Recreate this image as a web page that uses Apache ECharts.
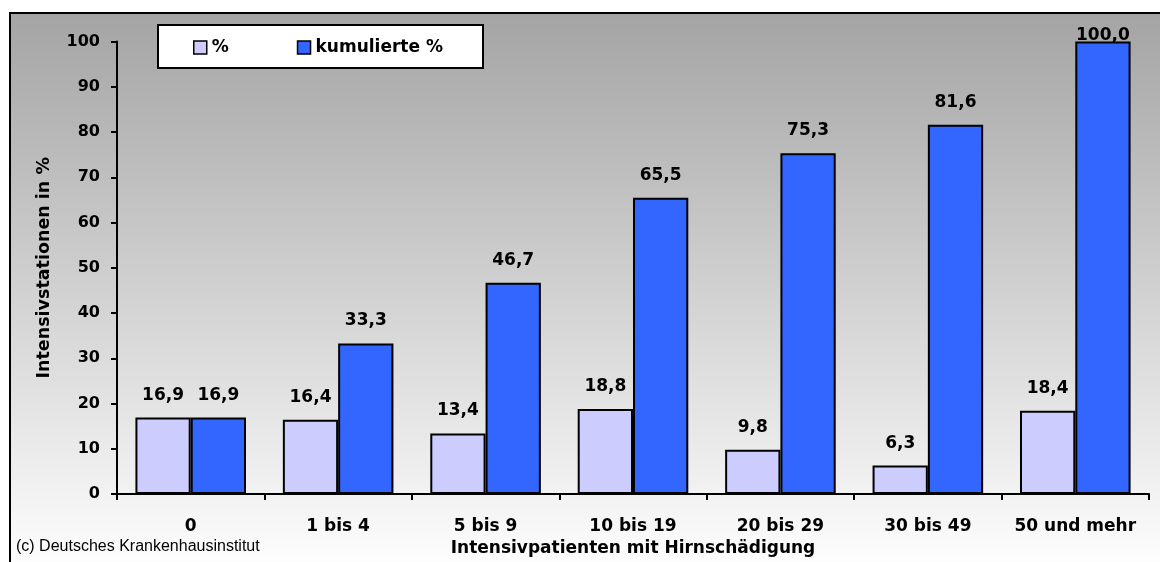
<!DOCTYPE html>
<html>
<head>
<meta charset="utf-8">
<script src="https://cdn.jsdelivr.net/npm/echarts@6/dist/echarts.min.js"></script>
<style>
html,body{margin:0;padding:0;background:#fff;}
#chart{width:1160px;height:562px;}
</style>
</head>
<body>
<div id="chart"></div>
<script>
var categories = ['0', '1 bis 4', '5 bis 9', '10 bis 19', '20 bis 29', '30 bis 49', '50 und mehr'];
var pct = [16.9, 16.4, 13.4, 18.8, 9.8, 6.3, 18.4];
var cumPct = [16.9, 33.3, 46.7, 65.5, 75.3, 81.6, 100.0];
var yTicks = [0, 10, 20, 30, 40, 50, 60, 70, 80, 90, 100];
var seriesNames = ['%', 'kumulierte %'];

var FONT = 'DejaVu Sans, Liberation Sans, Arial, sans-serif';
function fmt(p) { return p.value.toFixed(1).replace('.', ','); }

var chart = echarts.init(document.getElementById('chart'), null, {renderer: 'canvas'});

var cumData = cumPct.map(function (v) {
  if (v >= 100) return {value: v, label: {distance: -3}};
  return v;
});

var labelStyle = {
  show: true, position: 'top', distance: 14, formatter: fmt,
  fontFamily: FONT, fontWeight: 'bold', fontSize: 17, color: '#000'
};

chart.setOption({
  animation: false,
  backgroundColor: '#ffffff',
  graphic: [
    {
      type: 'rect', z: -10, silent: true,
      shape: {x: 10, y: 13, width: 1160, height: 560},
      style: {
        fill: new echarts.graphic.LinearGradient(0, 0, 0, 1, [
          {offset: 0, color: '#a4a4a4'},
          {offset: 1, color: '#ffffff'}
        ]),
        stroke: '#000', lineWidth: 2
      }
    },
    {
      type: 'rect', z: 3, silent: true,
      shape: {x: 158, y: 25, width: 325, height: 43},
      style: {fill: '#ffffff', stroke: '#000', lineWidth: 2}
    },
    {
      type: 'text', z: 5, silent: true,
      style: {
        x: 16, y: 547, text: '(c) Deutsches Krankenhausinstitut',
        align: 'left', verticalAlign: 'middle',
        font: '16px Liberation Sans, Arial, sans-serif', fill: '#000'
      }
    }
  ],
  legend: {
    left: 188, top: 34, z: 4,
    itemWidth: 13, itemHeight: 13, itemGap: 68,
    icon: 'rect',
    itemStyle: {borderColor: '#000', borderWidth: 1.5},
    textStyle: {fontFamily: FONT, fontWeight: 'bold', fontSize: 17, color: '#000'},
    data: seriesNames
  },
  grid: {left: 117, right: 11, top: 41.5, bottom: 66, containLabel: false},
  xAxis: {
    type: 'category',
    data: categories,
    name: 'Intensivpatienten mit Hirnschädigung',
    nameLocation: 'middle', nameGap: 43,
    nameTextStyle: {fontFamily: FONT, fontWeight: 'bold', fontSize: 17, color: '#000'},
    axisLine: {lineStyle: {color: '#000', width: 2}},
    axisTick: {show: true, interval: 0, length: 6, lineStyle: {color: '#000', width: 2}},
    axisLabel: {interval: 0, fontFamily: FONT, fontWeight: 'bold', fontSize: 17, color: '#000', margin: 24},
    splitLine: {show: false}
  },
  yAxis: {
    type: 'value',
    min: yTicks[0], max: yTicks[yTicks.length - 1], interval: 10,
    name: 'Intensivstationen in %',
    nameLocation: 'middle', nameGap: 64, nameRotate: 90,
    nameTextStyle: {fontFamily: FONT, fontWeight: 'bold', fontSize: 17.5, color: '#000'},
    axisLine: {show: true, lineStyle: {color: '#000', width: 2}},
    axisTick: {show: true, length: 6, lineStyle: {color: '#000', width: 2}},
    axisLabel: {fontFamily: FONT, fontWeight: 'bold', fontSize: 16, color: '#000', margin: 17},
    splitLine: {show: false}
  },
  series: [
    {
      name: seriesNames[0], type: 'bar', data: pct,
      barGap: '0%', barCategoryGap: '25%',
      itemStyle: {color: '#ccccff', borderColor: '#000', borderWidth: 2},
      label: labelStyle
    },
    {
      name: seriesNames[1], type: 'bar', data: cumData,
      barGap: '0%', barCategoryGap: '25%',
      itemStyle: {color: '#3366ff', borderColor: '#000', borderWidth: 2},
      label: labelStyle
    }
  ]
});
</script>
</body>
</html>
